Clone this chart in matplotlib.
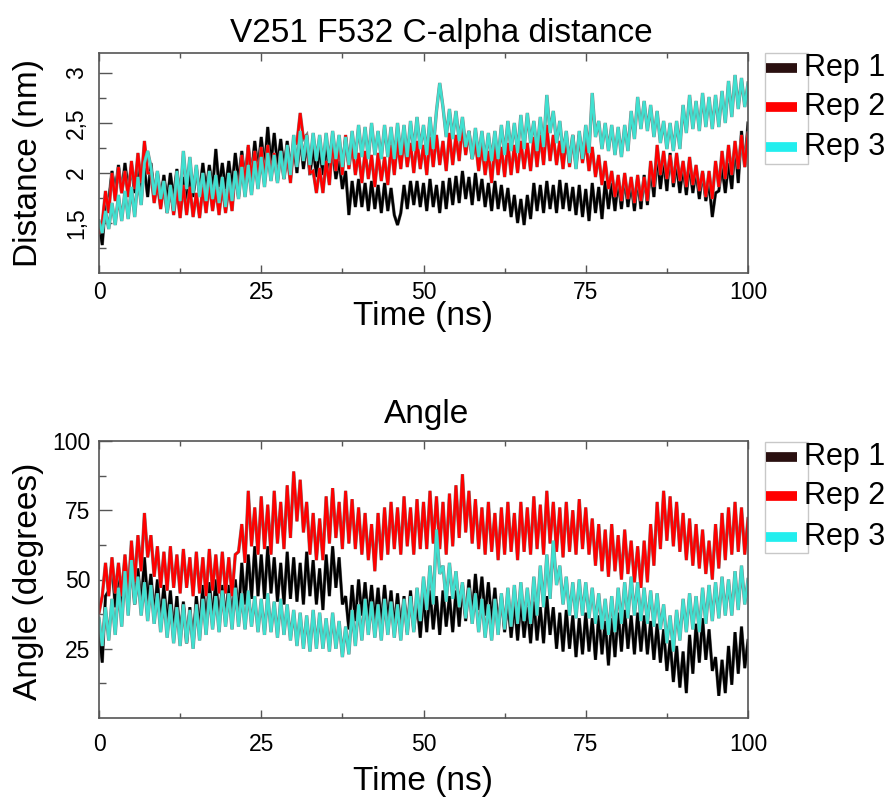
import numpy as np
import matplotlib
matplotlib.use("Agg")
import matplotlib.pyplot as plt
import matplotlib.patheffects as pe
from matplotlib.lines import Line2D
from matplotlib.patches import Rectangle
from matplotlib.ticker import FixedLocator, MultipleLocator

plt.rcParams['font.family'] = ['Liberation Sans', 'DejaVu Sans']

# time axis (ns), 0.5 ns sampling
time_ns = np.arange(0, 100.5, 0.5)

# ---- Distance (nm) ----
dist_rep1 = [
    1.5, 1.28, 1.7, 1.72, 2.02, 1.82, 2.08, 1.8, 2.1, 1.84,
    2.06, 1.8, 2.1, 1.82, 2.05, 1.76, 2.1, 1.78, 2.0, 1.74,
    1.98, 1.72, 2.0, 1.75, 2.04, 1.74, 1.96, 1.7, 2.0, 1.76,
    2.04, 1.8, 2.1, 1.82, 2.08, 1.84, 2.24, 1.86, 2.1, 1.84,
    2.12, 1.86, 2.2, 1.92, 2.22, 1.94, 2.26, 1.98, 2.32, 2.04,
    2.36, 2.06, 2.46, 2.1, 2.4, 2.08, 2.34, 2.04, 2.32, 2.05,
    2.3, 2.0, 2.36, 2.04, 2.3, 1.98, 2.26, 1.96, 2.25, 1.98,
    2.28, 2.0, 2.22, 1.94, 2.12, 1.84, 2.02, 1.58, 1.92, 1.66,
    1.94, 1.66, 1.9, 1.62, 1.92, 1.64, 1.88, 1.6, 1.9, 1.62,
    1.85, 1.58, 1.48, 1.6, 1.88, 1.64, 1.92, 1.68, 1.92, 1.66,
    1.9, 1.62, 1.94, 1.66, 1.88, 1.6, 1.92, 1.64, 1.95, 1.68,
    1.97, 1.7, 2.02, 1.74, 1.96, 1.68, 2.0, 1.72, 1.94, 1.66,
    1.9, 1.62, 1.92, 1.64, 1.88, 1.62, 1.85, 1.56, 1.78, 1.5,
    1.74, 1.48, 1.78, 1.54, 1.9, 1.62, 1.88, 1.6, 1.92, 1.64,
    1.88, 1.6, 1.93, 1.64, 1.9, 1.62, 1.86, 1.58, 1.88, 1.56,
    1.84, 1.52, 1.9, 1.6, 1.86, 1.54, 1.92, 1.64, 1.9, 1.62,
    1.92, 1.64, 1.96, 1.66, 1.9, 1.62, 1.94, 1.64, 1.98, 1.68,
    2.04, 1.76, 2.18, 1.84, 2.12, 1.82, 2.2, 1.86, 2.08, 1.8,
    2.06, 1.78, 2.08, 1.8, 2.02, 1.74, 2.0, 1.72, 1.9, 1.56,
    1.8, 1.82, 2.06, 1.8, 2.1, 1.84, 2.28, 1.9, 2.42, 2.06,
    2.5]
dist_rep2 = [
    1.4, 1.5, 1.82, 1.6, 2.0, 1.72, 2.06, 1.8, 2.02, 1.76,
    2.12, 1.84, 2.2, 1.9, 2.32, 2.0, 2.0, 1.7, 1.9, 1.64,
    1.88, 1.6, 1.86, 1.58, 1.84, 1.55, 1.88, 1.58, 1.86, 1.56,
    1.8, 1.55, 1.86, 1.6, 1.9, 1.62, 1.84, 1.58, 1.88, 1.6,
    1.86, 1.62, 2.02, 1.76, 2.18, 1.88, 2.28, 1.94, 2.22, 1.96,
    2.26, 1.96, 2.28, 1.98, 2.2, 1.92, 2.22, 1.94, 2.18, 1.9,
    2.28, 2.3, 2.6, 2.34, 2.38, 2.0, 2.02, 1.8, 2.05, 1.8,
    2.12, 1.88, 2.32, 2.02, 2.28, 1.98, 2.38, 2.04, 2.3, 1.98,
    2.2, 1.9, 2.22, 1.94, 2.18, 1.86, 2.2, 1.92, 2.16, 1.88,
    2.28, 1.98, 2.32, 2.04, 2.36, 2.06, 2.3, 2.0, 2.32, 2.04,
    2.28, 1.98, 2.36, 2.06, 2.38, 2.08, 2.32, 2.02, 2.4, 2.08,
    2.38, 2.12, 2.48, 2.18, 2.42, 2.14, 2.32, 2.02, 2.28, 1.98,
    2.22, 1.9, 2.28, 1.98, 2.26, 1.96, 2.3, 1.98, 2.28, 2.0,
    2.32, 2.04, 2.3, 2.02, 2.36, 2.06, 2.38, 2.08, 2.48, 2.12,
    2.38, 2.08, 2.32, 2.04, 2.36, 2.06, 2.38, 2.08, 2.38, 2.1,
    2.32, 2.02, 2.26, 1.96, 2.18, 1.88, 2.12, 1.84, 2.02, 1.76,
    1.98, 1.72, 2.0, 1.74, 1.96, 1.7, 1.98, 1.72, 1.96, 1.72,
    2.12, 1.86, 2.28, 1.98, 2.22, 1.94, 2.18, 1.9, 2.2, 1.92,
    2.12, 1.86, 2.16, 1.88, 2.08, 1.82, 2.02, 1.76, 2.02, 1.74,
    2.12, 1.86, 2.22, 1.94, 2.28, 1.98, 2.32, 2.04, 2.38, 2.06,
    2.4]
dist_rep3 = [
    1.52, 1.4, 1.62, 1.44, 1.7, 1.48, 1.78, 1.52, 1.82, 1.54,
    1.86, 1.56, 1.96, 1.68, 2.1, 2.22, 2.06, 1.78, 2.02, 1.74,
    1.92, 1.6, 1.88, 1.62, 2.02, 1.72, 2.22, 1.84, 2.16, 1.8,
    2.08, 1.76, 2.0, 1.72, 2.02, 1.74, 1.98, 1.7, 1.96, 1.66,
    2.0, 1.72, 2.02, 1.74, 2.06, 1.76, 2.08, 1.78, 2.12, 1.84,
    2.16, 1.86, 2.2, 1.92, 2.18, 1.9, 2.22, 1.94, 2.28, 1.98,
    2.38, 2.06, 2.42, 2.12, 2.38, 2.08, 2.4, 2.12, 2.38, 2.08,
    2.4, 2.1, 2.42, 2.14, 2.38, 2.06, 2.36, 2.08, 2.42, 2.14,
    2.48, 2.16, 2.46, 2.14, 2.5, 2.18, 2.42, 2.14, 2.48, 2.16,
    2.46, 2.14, 2.5, 2.18, 2.48, 2.16, 2.52, 2.22, 2.56, 2.24,
    2.48, 2.18, 2.56, 2.24, 2.62, 2.9, 2.66, 2.36, 2.64, 2.34,
    2.62, 2.32, 2.56, 2.26, 2.42, 2.14, 2.45, 2.16, 2.42, 2.12,
    2.4, 2.12, 2.42, 2.14, 2.48, 2.18, 2.52, 2.22, 2.5, 2.2,
    2.58, 2.24, 2.6, 2.3, 2.52, 2.22, 2.56, 2.26, 2.78, 2.4,
    2.62, 2.3, 2.52, 2.2, 2.42, 2.1, 2.38, 2.04, 2.42, 2.14,
    2.48, 2.2, 2.8, 2.36, 2.52, 2.24, 2.5, 2.22, 2.48, 2.18,
    2.46, 2.16, 2.48, 2.22, 2.62, 2.34, 2.76, 2.44, 2.72, 2.42,
    2.68, 2.36, 2.62, 2.3, 2.52, 2.24, 2.5, 2.22, 2.52, 2.24,
    2.68, 2.4, 2.78, 2.44, 2.72, 2.42, 2.8, 2.46, 2.76, 2.44,
    2.78, 2.46, 2.82, 2.5, 2.92, 2.56, 2.98, 2.64, 2.95, 2.66,
    2.9]

# ---- Angle (degrees) ----
angle_rep1 = [
    32, 20, 44, 46, 56, 40, 54, 40, 58, 42,
    56, 41, 54, 40, 58, 42, 52, 37, 50, 35,
    48, 34, 46, 31, 44, 29, 42, 27, 40, 27,
    44, 32, 48, 34, 49, 36, 50, 35, 48, 36,
    48, 35, 50, 37, 56, 41, 59, 43, 62, 44,
    59, 43, 62, 45, 58, 42, 56, 41, 60, 43,
    58, 42, 56, 41, 60, 44, 57, 41, 54, 39,
    59, 44, 62, 47, 58, 41, 44, 32, 48, 35,
    50, 37, 49, 36, 48, 35, 47, 34, 48, 35,
    46, 33, 45, 32, 44, 31, 46, 32, 42, 29,
    44, 31, 46, 32, 44, 30, 46, 33, 44, 31,
    46, 33, 48, 35, 50, 37, 52, 39, 51, 37,
    49, 35, 47, 33, 44, 31, 42, 29, 41, 28,
    42, 29, 40, 27, 42, 28, 40, 27, 44, 30,
    40, 25, 38, 24, 39, 25, 37, 22, 36, 23,
    38, 24, 36, 21, 37, 23, 35, 19, 36, 22,
    38, 24, 39, 25, 37, 23, 38, 24, 37, 23,
    35, 21, 34, 20, 32, 17, 28, 13, 26, 11,
    24, 9, 30, 16, 34, 20, 36, 21, 32, 17,
    22, 8, 21, 9, 26, 12, 31, 16, 33, 18,
    28]
angle_rep2 = [
    38, 44, 56, 44, 58, 45, 56, 44, 59, 45,
    64, 49, 66, 53, 74, 58, 66, 51, 62, 47,
    60, 46, 62, 47, 59, 45, 61, 47, 58, 44,
    60, 45, 58, 44, 61, 46, 59, 45, 60, 45,
    58, 44, 59, 60, 70, 56, 82, 62, 76, 59,
    80, 61, 77, 59, 82, 63, 78, 61, 84, 65,
    89, 71, 86, 67, 78, 59, 74, 57, 72, 57,
    80, 63, 83, 65, 78, 61, 82, 63, 79, 61,
    76, 59, 74, 57, 70, 53, 74, 57, 76, 59,
    78, 61, 76, 59, 80, 62, 76, 59, 79, 61,
    78, 61, 82, 63, 80, 61, 78, 59, 81, 62,
    84, 65, 88, 67, 82, 63, 79, 61, 76, 59,
    78, 60, 74, 57, 76, 59, 78, 60, 74, 57,
    78, 60, 76, 59, 80, 61, 77, 59, 82, 63,
    78, 60, 76, 58, 78, 60, 75, 59, 79, 61,
    76, 59, 72, 55, 70, 53, 68, 51, 70, 53,
    66, 50, 68, 52, 64, 49, 62, 47, 64, 49,
    70, 55, 78, 61, 82, 64, 80, 62, 78, 60,
    74, 57, 72, 55, 70, 54, 68, 52, 64, 50,
    70, 54, 74, 57, 76, 59, 78, 60, 76, 59,
    72]
angle_rep3 = [
    36, 26, 40, 28, 43, 30, 47, 33, 53, 37,
    57, 41, 51, 37, 49, 35, 48, 34, 45, 31,
    43, 29, 41, 27, 40, 26, 41, 27, 39, 25,
    41, 28, 43, 30, 45, 32, 44, 31, 46, 33,
    45, 32, 47, 33, 45, 32, 46, 33, 44, 31,
    43, 30, 45, 31, 42, 29, 43, 30, 41, 28,
    39, 26, 38, 25, 37, 24, 39, 25, 38, 25,
    36, 24, 38, 25, 35, 22, 33, 23, 39, 26,
    41, 28, 43, 30, 42, 29, 41, 28, 43, 30,
    42, 29, 41, 28, 43, 30, 44, 31, 47, 35,
    51, 39, 55, 41, 68, 52, 55, 42, 56, 43,
    53, 40, 49, 36, 47, 34, 45, 31, 43, 29,
    41, 28, 43, 30, 45, 32, 47, 33, 48, 34,
    49, 35, 47, 34, 51, 37, 55, 40, 59, 43,
    64, 48, 55, 41, 51, 37, 49, 36, 50, 37,
    49, 36, 47, 34, 45, 32, 43, 30, 44, 31,
    47, 34, 49, 36, 51, 37, 49, 35, 47, 34,
    46, 33, 45, 32, 41, 27, 37, 24, 39, 28,
    43, 31, 45, 32, 44, 31, 47, 34, 48, 35,
    49, 36, 51, 37, 50, 37, 53, 39, 55, 41,
    50]

rep_labels = ["Rep 1", "Rep 2", "Rep 3"]
line_colors = ["#000000", "#ff0000", "#40e0d0"]
legend_colors = ["#2a1010", "#ff0000", "#22eeee"]
x_ticks = [0, 25, 50, 75, 100]
dist_ticks = [1.5, 2.0, 2.5, 3.0]
dist_ticklabels = ["1,5", "2", "2,5", "3"]
angle_ticks = [25, 50, 75, 100]

W, H = 891, 798
fig = plt.figure(figsize=(W / 100, H / 100), dpi=100)

def fx(px):
    return px / W

def fy(py):
    return 1 - py / H

ax1 = fig.add_axes([fx(99), fy(273), fx(748) - fx(99), fy(53) - fy(273)])
ax2 = fig.add_axes([fx(99), fy(718), fx(748) - fx(99), fy(441) - fy(718)])

edge = [pe.Stroke(linewidth=2.4, foreground="#808080"), pe.Normal()]
for ys, ax in (((dist_rep1, dist_rep2, dist_rep3), ax1),
               ((angle_rep1, angle_rep2, angle_rep3), ax2)):
    for y, c in zip(ys, line_colors):
        ax.plot(time_ns, y, color=c, lw=1.8, solid_joinstyle='miter',
                path_effects=edge)

spine_col = "#555555"
for ax in (ax1, ax2):
    ax.set_xlim(0, 100)
    for s in ax.spines.values():
        s.set_color(spine_col)
        s.set_linewidth(1.2)
    ax.xaxis.set_major_locator(FixedLocator(x_ticks))
    ax.xaxis.set_minor_locator(MultipleLocator(12.5))
    ax.tick_params(axis='x', which='both', direction='in', top=True, bottom=True,
                   color=spine_col, width=1.0)
    ax.tick_params(axis='x', which='major', length=6)
    ax.tick_params(axis='x', which='minor', length=3.5)
    ax.tick_params(axis='y', which='both', direction='in', left=True, right=False,
                   color=spine_col, width=1.0)
    ax.tick_params(axis='y', which='major', length=9.5)
    ax.tick_params(axis='y', which='minor', length=5)

ax1.set_ylim(1.0, 3.2)
ax1.set_yticks(dist_ticks)
ax1.set_yticklabels(dist_ticklabels, rotation=90, va='center')
ax1.yaxis.set_minor_locator(FixedLocator([1.25, 1.75, 2.25, 2.75]))
ax1.set_xticklabels([str(t) for t in x_ticks])
ax1.tick_params(axis='x', labelsize=16.5, pad=6)
ax1.tick_params(axis='y', labelsize=16.5, pad=8)

ax2.set_ylim(0, 100)
ax2.set_yticks(angle_ticks)
ax2.set_yticklabels([str(t) for t in angle_ticks])
ax2.yaxis.set_minor_locator(FixedLocator([12.5, 37.5, 62.5, 87.5]))
ax2.set_xticklabels([str(t) for t in x_ticks])
ax2.tick_params(axis='x', labelsize=16.5, pad=11)
ax2.tick_params(axis='y', labelsize=16.5, pad=6)

# titles and axis labels
fs = 24
fig.text(fx(441), fy(42), "V251 F532 C-alpha distance", ha='center', va='baseline', fontsize=fs)
fig.text(fx(427), fy(423), "Angle", ha='center', va='baseline', fontsize=fs)
fig.text(fx(423), fy(325), "Time (ns)", ha='center', va='baseline', fontsize=fs)
fig.text(fx(423), fy(790), "Time (ns)", ha='center', va='baseline', fontsize=fs)
fig.text(fx(28), fy(163), "Distance (nm)", ha='center', va='center', rotation=90, fontsize=fs)
fig.text(fx(29), fy(581), "Angle (degrees)", ha='center', va='center', rotation=90, fontsize=fs)

# legends (frame narrower than the text, as in the reference)
def draw_legend(top, bottom, ys):
    fig.add_artist(Rectangle((fx(765), fy(bottom)), fx(808) - fx(765), fy(top) - fy(bottom),
                             transform=fig.transFigure, fill=False,
                             edgecolor="#c8c8c8", lw=1.0))
    for lab, col, yy in zip(rep_labels, legend_colors, ys):
        fig.add_artist(Line2D([fx(766), fx(797)], [fy(yy), fy(yy)],
                              transform=fig.transFigure, color=col, lw=7,
                              solid_capstyle='butt'))
        fig.text(fx(804), fy(yy), lab, ha='left', va='center', fontsize=22)

draw_legend(53, 164, [68, 107, 147])
draw_legend(442, 553, [457, 496, 537])

fig.savefig("out.png", dpi=100)
